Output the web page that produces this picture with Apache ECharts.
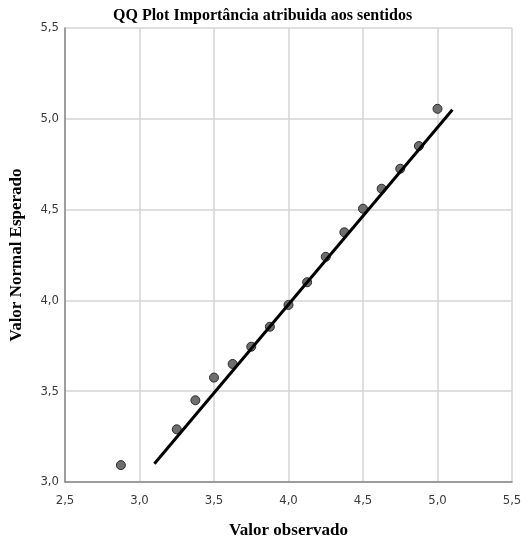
<!DOCTYPE html>
<html>
<head>
<meta charset="utf-8">
<script src="https://cdn.jsdelivr.net/npm/echarts@6/dist/echarts.min.js"></script>
<style>
 html, body { margin: 0; padding: 0; background: #fff; }
 #qq-chart { width: 529px; height: 544px; }
</style>
</head>
<body>
<div id="qq-chart"></div>
<script>
// valores
const observado = [2.875, 3.25, 3.375, 3.5, 3.625, 3.75, 3.875, 4.0, 4.125, 4.25, 4.375, 4.5, 4.625, 4.75, 4.875, 5.0]
const esperado = [3.093, 3.29, 3.45, 3.575, 3.65, 3.745, 3.855, 3.975, 4.10, 4.24, 4.375, 4.505, 4.615, 4.725, 4.85, 5.055]
const linhaX = [3.1, 5.1]
const linhaY = [3.10, 5.05]

const virgula = v => v.toFixed(1).replace('.', ',')

const chart = echarts.init(document.getElementById('qq-chart'))
chart.setOption({
 animation: false,
 title: {
  text: 'QQ Plot Importância atribuida aos sentidos',
  left: 108,
  top: 3,
  textStyle: { fontFamily: 'Liberation Serif', fontWeight: 'bold', fontSize: 16, color: '#000' }
 },
 grid: { left: 62, right: 17, top: 28, bottom: 60 },
 xAxis: {
  type: 'value',
  min: 2.5,
  max: 5.5,
  interval: 0.5,
  name: 'Valor observado',
  nameLocation: 'middle',
  nameGap: 40,
  nameTextStyle: { fontFamily: 'Liberation Serif', fontWeight: 'bold', fontSize: 17, color: '#000' },
  axisLine: { lineStyle: { color: '#888', width: 1.5 } },
  axisTick: { show: false },
  axisLabel: { formatter: virgula, color: '#3a3a3a', fontFamily: 'DejaVu Sans Condensed', fontSize: 13, margin: 12 },
  splitLine: { show: true, lineStyle: { color: '#d4d4d4', width: 1.5 } }
 },
 yAxis: {
  type: 'value',
  min: 3.0,
  max: 5.5,
  interval: 0.5,
  name: 'Valor Normal Esperado',
  nameLocation: 'middle',
  nameGap: 40,
  nameTextStyle: { fontFamily: 'Liberation Serif', fontWeight: 'bold', fontSize: 17, color: '#000' },
  axisLine: { show: true, lineStyle: { color: '#888', width: 1.5 } },
  axisTick: { show: false },
  axisLabel: { formatter: virgula, color: '#3a3a3a', fontFamily: 'DejaVu Sans Condensed', fontSize: 13, margin: 6 },
  splitLine: { show: true, lineStyle: { color: '#d4d4d4', width: 1.5 } }
 },
 series: [
  {
   type: 'line',
   data: linhaX.map((x, i) => [x, linhaY[i]]),
   showSymbol: false,
   lineStyle: { color: '#000', width: 3 },
   z: 3
  },
  {
   type: 'scatter',
   data: observado.map((x, i) => [x, esperado[i]]),
   symbolSize: 9,
   itemStyle: { color: '#6e6e6e', borderColor: '#2a2a2a', borderWidth: 1, opacity: 1 },
   z: 2
  }
 ]
})
</script>
</body>
</html>
